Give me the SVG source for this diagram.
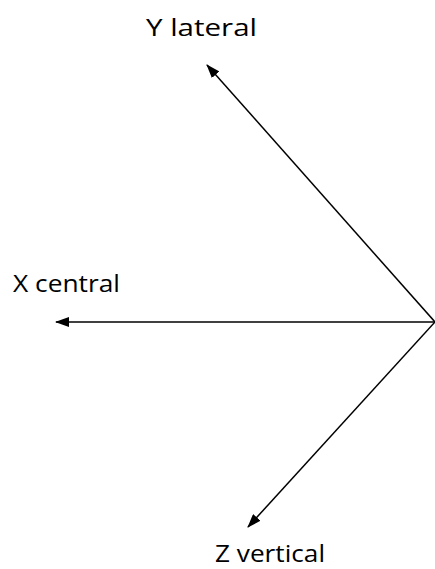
<svg xmlns="http://www.w3.org/2000/svg" width="435" height="569" viewBox="0 0 435 569">
<style>
.lbl{font-family:"Open Sans","Liberation Sans",sans-serif;font-size:24px;fill:#000}
.ax{stroke:#000;stroke-width:1.5;fill:none;marker-end:url(#ah)}
</style>
<defs>
<marker id="ah" viewBox="0 0 14 10" refX="13" refY="5" markerWidth="14" markerHeight="10" markerUnits="userSpaceOnUse" orient="auto">
<path d="M0,0 L14,5 L0,10 Z" fill="#000"/>
</marker>
</defs>
<rect width="435" height="569" fill="#fff"/>
<g id="connectors">
<line class="ax" x1="435" y1="322" x2="56" y2="322"/>
<line class="ax" x1="435" y1="322" x2="207" y2="65"/>
<line class="ax" x1="435" y1="322" x2="248" y2="527"/>
</g>
<g id="y-lateral"><text class="lbl" x="146" y="36" textLength="111" lengthAdjust="spacingAndGlyphs">Y lateral</text></g>
<g id="x-central"><text class="lbl" x="13" y="292" textLength="107" lengthAdjust="spacingAndGlyphs">X central</text></g>
<g id="z-vertical"><text class="lbl" x="215" y="562" textLength="110" lengthAdjust="spacingAndGlyphs">Z vertical</text></g>
</svg>
